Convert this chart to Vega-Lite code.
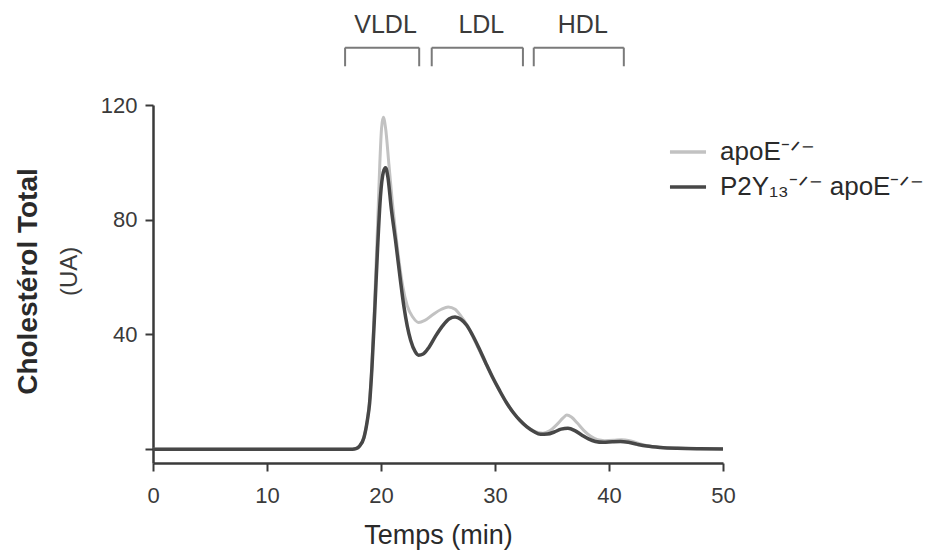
{
  "$schema": "https://vega.github.io/schema/vega-lite/v6.json",
  "autosize": {"type": "none"},
  "padding": {"left": 153, "top": 105, "right": 205, "bottom": 88},
  "width": 570,
  "height": 358,
  "background": "white",
  "config": {
    "view": {"stroke": null},
    "font": "Liberation Sans",
    "axis": {
      "grid": false,
      "domainColor": "#3a3a3a",
      "domainWidth": 2.5,
      "tickColor": "#3a3a3a",
      "tickWidth": 2,
      "tickSize": 8,
      "labelFont": "Liberation Sans",
      "labelFontSize": 22,
      "labelColor": "#3a3a3a",
      "labelFlush": false,
      "titleFont": "Liberation Sans",
      "titleColor": "#2a2a2a"
    }
  },
  "datasets": {
    "courbes": [
      {"t": 0, "serie": "apoE", "chol": 0},
      {"t": 5, "serie": "apoE", "chol": 0},
      {"t": 10, "serie": "apoE", "chol": 0},
      {"t": 15, "serie": "apoE", "chol": 0},
      {"t": 17.5, "serie": "apoE", "chol": 0},
      {"t": 17.8, "serie": "apoE", "chol": 0.2},
      {"t": 18.1, "serie": "apoE", "chol": 1},
      {"t": 18.5, "serie": "apoE", "chol": 4},
      {"t": 18.8, "serie": "apoE", "chol": 10},
      {"t": 19.0, "serie": "apoE", "chol": 17},
      {"t": 19.2, "serie": "apoE", "chol": 29},
      {"t": 19.45, "serie": "apoE", "chol": 52},
      {"t": 19.7, "serie": "apoE", "chol": 78},
      {"t": 19.9, "serie": "apoE", "chol": 100},
      {"t": 20.05, "serie": "apoE", "chol": 112},
      {"t": 20.2, "serie": "apoE", "chol": 115.7},
      {"t": 20.4, "serie": "apoE", "chol": 112},
      {"t": 20.7, "serie": "apoE", "chol": 99},
      {"t": 21.0, "serie": "apoE", "chol": 86},
      {"t": 21.3, "serie": "apoE", "chol": 75},
      {"t": 21.6, "serie": "apoE", "chol": 65},
      {"t": 21.9, "serie": "apoE", "chol": 57},
      {"t": 22.3, "serie": "apoE", "chol": 50},
      {"t": 22.8, "serie": "apoE", "chol": 46},
      {"t": 23.3, "serie": "apoE", "chol": 44.2},
      {"t": 23.8, "serie": "apoE", "chol": 44.8},
      {"t": 24.5, "serie": "apoE", "chol": 46.8},
      {"t": 25.3, "serie": "apoE", "chol": 48.8},
      {"t": 25.9, "serie": "apoE", "chol": 49.6},
      {"t": 26.5, "serie": "apoE", "chol": 48.8},
      {"t": 27.0, "serie": "apoE", "chol": 46.5},
      {"t": 27.6, "serie": "apoE", "chol": 43},
      {"t": 28.2, "serie": "apoE", "chol": 38},
      {"t": 28.8, "serie": "apoE", "chol": 33},
      {"t": 29.4, "serie": "apoE", "chol": 28},
      {"t": 30.0, "serie": "apoE", "chol": 23.2},
      {"t": 30.6, "serie": "apoE", "chol": 18.8},
      {"t": 31.2, "serie": "apoE", "chol": 15},
      {"t": 31.8, "serie": "apoE", "chol": 11.8},
      {"t": 32.4, "serie": "apoE", "chol": 9.2},
      {"t": 33.0, "serie": "apoE", "chol": 7.3},
      {"t": 33.6, "serie": "apoE", "chol": 6.0},
      {"t": 34.2, "serie": "apoE", "chol": 5.6},
      {"t": 34.8, "serie": "apoE", "chol": 6.4},
      {"t": 35.4, "serie": "apoE", "chol": 8.5},
      {"t": 36.0, "serie": "apoE", "chol": 11},
      {"t": 36.3, "serie": "apoE", "chol": 11.9},
      {"t": 36.7, "serie": "apoE", "chol": 11.2},
      {"t": 37.2, "serie": "apoE", "chol": 9.2},
      {"t": 37.8, "serie": "apoE", "chol": 6.5},
      {"t": 38.4, "serie": "apoE", "chol": 4.5},
      {"t": 39.0, "serie": "apoE", "chol": 3.3},
      {"t": 39.6, "serie": "apoE", "chol": 3.0},
      {"t": 40.4, "serie": "apoE", "chol": 3.1},
      {"t": 41.1, "serie": "apoE", "chol": 3.3},
      {"t": 41.8, "serie": "apoE", "chol": 3.0},
      {"t": 42.6, "serie": "apoE", "chol": 2.0},
      {"t": 43.4, "serie": "apoE", "chol": 1.2},
      {"t": 44.5, "serie": "apoE", "chol": 0.7},
      {"t": 46, "serie": "apoE", "chol": 0.4},
      {"t": 48, "serie": "apoE", "chol": 0.2},
      {"t": 50, "serie": "apoE", "chol": 0.2},
      {"t": 0, "serie": "P2Y13", "chol": 0},
      {"t": 5, "serie": "P2Y13", "chol": 0},
      {"t": 10, "serie": "P2Y13", "chol": 0},
      {"t": 15, "serie": "P2Y13", "chol": 0},
      {"t": 17.5, "serie": "P2Y13", "chol": 0},
      {"t": 17.8, "serie": "P2Y13", "chol": 0.2},
      {"t": 18.1, "serie": "P2Y13", "chol": 1},
      {"t": 18.5, "serie": "P2Y13", "chol": 4},
      {"t": 18.8, "serie": "P2Y13", "chol": 10},
      {"t": 19.0, "serie": "P2Y13", "chol": 16},
      {"t": 19.2, "serie": "P2Y13", "chol": 28},
      {"t": 19.45, "serie": "P2Y13", "chol": 48},
      {"t": 19.7, "serie": "P2Y13", "chol": 70},
      {"t": 19.95, "serie": "P2Y13", "chol": 88},
      {"t": 20.2, "serie": "P2Y13", "chol": 96.5},
      {"t": 20.4, "serie": "P2Y13", "chol": 98.1},
      {"t": 20.6, "serie": "P2Y13", "chol": 95},
      {"t": 20.9, "serie": "P2Y13", "chol": 84},
      {"t": 21.3, "serie": "P2Y13", "chol": 72},
      {"t": 21.7, "serie": "P2Y13", "chol": 59},
      {"t": 22.0, "serie": "P2Y13", "chol": 50},
      {"t": 22.3, "serie": "P2Y13", "chol": 43},
      {"t": 22.6, "serie": "P2Y13", "chol": 38},
      {"t": 23.0, "serie": "P2Y13", "chol": 34},
      {"t": 23.3, "serie": "P2Y13", "chol": 32.8},
      {"t": 23.7, "serie": "P2Y13", "chol": 33.2},
      {"t": 24.2, "serie": "P2Y13", "chol": 35.5},
      {"t": 24.8, "serie": "P2Y13", "chol": 39.5},
      {"t": 25.4, "serie": "P2Y13", "chol": 43},
      {"t": 26.0, "serie": "P2Y13", "chol": 45.5},
      {"t": 26.5, "serie": "P2Y13", "chol": 46.1},
      {"t": 27.0, "serie": "P2Y13", "chol": 45.3},
      {"t": 27.5, "serie": "P2Y13", "chol": 43.3},
      {"t": 28.0, "serie": "P2Y13", "chol": 40},
      {"t": 28.6, "serie": "P2Y13", "chol": 35.2},
      {"t": 29.2, "serie": "P2Y13", "chol": 30},
      {"t": 29.8, "serie": "P2Y13", "chol": 25},
      {"t": 30.4, "serie": "P2Y13", "chol": 20.5},
      {"t": 31.0, "serie": "P2Y13", "chol": 16.3},
      {"t": 31.6, "serie": "P2Y13", "chol": 12.8},
      {"t": 32.2, "serie": "P2Y13", "chol": 10},
      {"t": 32.8, "serie": "P2Y13", "chol": 7.8},
      {"t": 33.4, "serie": "P2Y13", "chol": 6.2},
      {"t": 34.0, "serie": "P2Y13", "chol": 5.2},
      {"t": 34.6, "serie": "P2Y13", "chol": 5.3},
      {"t": 35.2, "serie": "P2Y13", "chol": 6.0},
      {"t": 35.8, "serie": "P2Y13", "chol": 7.0},
      {"t": 36.4, "serie": "P2Y13", "chol": 7.3},
      {"t": 37.0, "serie": "P2Y13", "chol": 6.5},
      {"t": 37.6, "serie": "P2Y13", "chol": 5.0},
      {"t": 38.2, "serie": "P2Y13", "chol": 3.6},
      {"t": 38.8, "serie": "P2Y13", "chol": 2.7},
      {"t": 39.5, "serie": "P2Y13", "chol": 2.4},
      {"t": 40.3, "serie": "P2Y13", "chol": 2.6},
      {"t": 41.0, "serie": "P2Y13", "chol": 2.7},
      {"t": 41.7, "serie": "P2Y13", "chol": 2.4},
      {"t": 42.5, "serie": "P2Y13", "chol": 1.7},
      {"t": 43.3, "serie": "P2Y13", "chol": 1.1},
      {"t": 44.5, "serie": "P2Y13", "chol": 0.6},
      {"t": 46, "serie": "P2Y13", "chol": 0.3},
      {"t": 48, "serie": "P2Y13", "chol": 0.15},
      {"t": 50, "serie": "P2Y13", "chol": 0.1}
    ],
    "fractions": [
      {"frac": "VLDL", "t": 16.85, "t2": 23.35, "centre": 20.4},
      {"frac": "LDL", "t": 24.45, "t2": 32.45, "centre": 28.8},
      {"frac": "HDL", "t": 33.4, "t2": 41.3, "centre": 37.7}
    ]
  },
  "layer": [
    {
      "data": {"name": "courbes"},
      "transform": [{"filter": "datum.serie == 'apoE'"}],
      "mark": {"type": "line", "interpolate": "monotone", "strokeWidth": 3},
      "encoding": {
        "x": {
          "field": "t", "type": "quantitative", "title": "Temps (min)",
          "scale": {"domain": [0, 50], "nice": false},
          "axis": {
            "values": [0, 10, 20, 30, 40, 50],
            "labelPadding": 14,
            "titleFontSize": 27,
            "titleFontWeight": "normal",
            "titleY": 72,
            "titleBaseline": "middle"
          }
        },
        "y": {
          "field": "chol", "type": "quantitative", "title": "Cholestérol Total",
          "scale": {"domain": [-4.8, 120], "nice": false, "zero": false},
          "axis": {
            "values": [0, 40, 80, 120],
            "labelExpr": "datum.value == 0 ? '' : datum.label",
            "labelPadding": 8,
            "titleFontSize": 28,
            "titleFontWeight": "bold",
            "titleAngle": 270,
            "titleX": -125,
            "titleY": 176,
            "titleAlign": "center",
            "titleBaseline": "middle"
          }
        },
        "color": {
          "field": "serie", "type": "nominal",
          "scale": {"domain": ["apoE", "P2Y13"], "range": ["#c2c2c2", "#474747"]},
          "legend": {
            "title": null,
            "orient": "none",
            "legendX": 515,
            "legendY": 27,
            "symbolType": "stroke",
            "symbolSize": 1300,
            "symbolStrokeWidth": 3.5,
            "labelFont": "Liberation Sans",
            "labelFontSize": 26,
            "labelColor": "#2a2a2a",
            "labelOffset": 12,
            "rowPadding": 2,
            "labelLimit": 400,
            "labelExpr": "datum.value == 'apoE' ? 'apoE⁻ᐟ⁻' : 'P2Y₁₃⁻ᐟ⁻ apoE⁻ᐟ⁻'"
          }
        }
      }
    },
    {
      "data": {"name": "courbes"},
      "transform": [{"filter": "datum.serie == 'P2Y13'"}],
      "mark": {"type": "line", "interpolate": "monotone", "strokeWidth": 3.5},
      "encoding": {
        "x": {"field": "t", "type": "quantitative", "title": "Temps (min)"},
        "y": {"field": "chol", "type": "quantitative", "title": "Cholestérol Total"},
        "color": {"field": "serie", "type": "nominal"}
      }
    },
    {
      "data": {"name": "fractions"},
      "mark": {"type": "rule", "color": "#7a7a7a", "strokeWidth": 2},
      "encoding": {
        "x": {"field": "t", "type": "quantitative", "title": "Temps (min)"},
        "x2": {"field": "t2"},
        "y": {"datum": 140, "type": "quantitative", "title": "Cholestérol Total"}
      }
    },
    {
      "data": {"name": "fractions"},
      "mark": {"type": "rule", "color": "#7a7a7a", "strokeWidth": 2},
      "encoding": {
        "x": {"field": "t", "type": "quantitative", "title": "Temps (min)"},
        "y": {"datum": 140, "type": "quantitative", "title": "Cholestérol Total"},
        "y2": {"datum": 133.5}
      }
    },
    {
      "data": {"name": "fractions"},
      "mark": {"type": "rule", "color": "#7a7a7a", "strokeWidth": 2},
      "encoding": {
        "x": {"field": "t2", "type": "quantitative", "title": "Temps (min)"},
        "y": {"datum": 140, "type": "quantitative", "title": "Cholestérol Total"},
        "y2": {"datum": 133.5}
      }
    },
    {
      "data": {"name": "fractions"},
      "mark": {"type": "text", "font": "Liberation Sans", "fontSize": 25, "color": "#3a3a3a", "baseline": "middle"},
      "encoding": {
        "x": {"field": "centre", "type": "quantitative", "title": "Temps (min)"},
        "y": {"datum": 148, "type": "quantitative", "title": "Cholestérol Total"},
        "text": {"field": "frac"}
      }
    },
    {
      "data": {"values": [{"unite": "(UA)"}]},
      "mark": {"type": "text", "font": "Liberation Sans", "fontSize": 24, "color": "#3a3a3a", "angle": 270, "baseline": "middle"},
      "encoding": {
        "x": {"datum": -7.3, "type": "quantitative", "title": "Temps (min)"},
        "y": {"datum": 62, "type": "quantitative", "title": "Cholestérol Total"},
        "text": {"field": "unite"}
      }
    }
  ]
}
